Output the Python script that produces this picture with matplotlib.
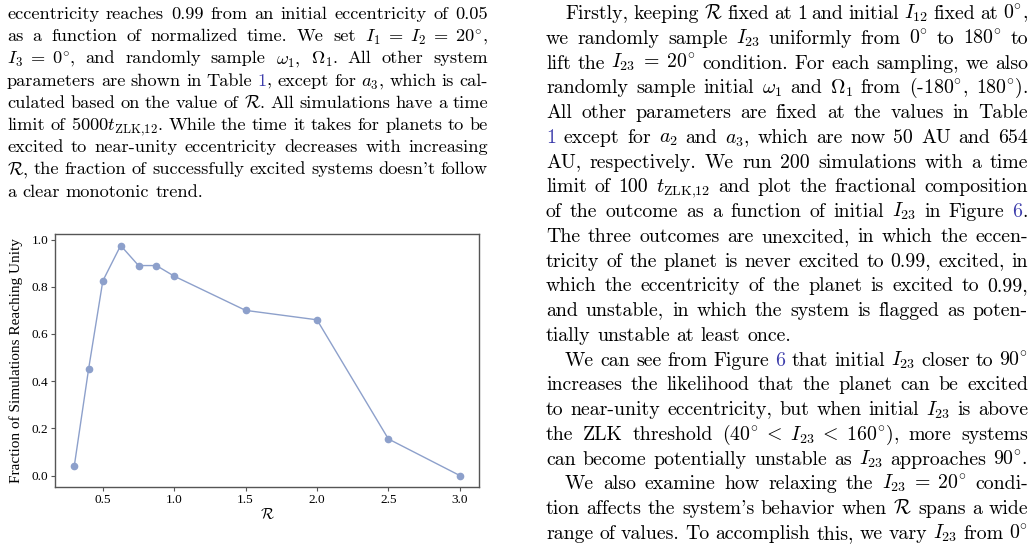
import matplotlib
matplotlib.use('Agg')
import matplotlib.pyplot as plt

plt.rcParams['font.family'] = 'Liberation Serif'
plt.rcParams['mathtext.fontset'] = 'cm'

# chart data
R_vals = [0.3, 0.4, 0.5, 0.625, 0.75, 0.875, 1.0, 1.5, 2.0, 2.5, 3.0]
frac_unity = [0.04, 0.45, 0.825, 0.975, 0.89, 0.89, 0.845, 0.70, 0.66, 0.155, 0.0]
x_ticks = [0.5, 1.0, 1.5, 2.0, 2.5, 3.0]
y_ticks = [0.0, 0.2, 0.4, 0.6, 0.8, 1.0]

# surrounding page text (§...§ marks link-coloured pieces)
left_lines = [
    "eccentricity reaches 0.99 from an initial eccentricity of 0.05",
    "as a function of normalized time. We set $I_1\\;=\\;I_2\\;=\\;20^{\\circ}$,",
    "$I_3\\;=\\;0^{\\circ}$, and randomly sample $\\omega_1$, $\\Omega_1$. All other system",
    "parameters are shown in Table §1§, except for $a_3$, which is cal-",
    "culated based on the value of $\\mathcal{R}$. All simulations have a time",
    "limit of $5000t_{\\mathrm{ZLK{,}12}}$. While the time it takes for planets to be",
    "excited to near-unity eccentricity decreases with increasing",
    "$\\mathcal{R}$, the fraction of successfully excited systems doesn't follow",
    "a clear monotonic trend.",
]
left_last = [8]

right_lines = [
    "Firstly, keeping $\\mathcal{R}$ fixed at 1 and initial $I_{12}$ fixed at $0^{\\circ}$,",
    "we randomly sample $I_{23}$ uniformly from $0^{\\circ}$ to $180^{\\circ}$ to",
    "lift the $I_{23}\\;=\\;20^{\\circ}$ condition. For each sampling, we also",
    "randomly sample initial $\\omega_1$ and $\\Omega_1$ from (-180$^{\\circ}$, 180$^{\\circ}$).",
    "All other parameters are fixed at the values in Table",
    "§1§ except for $a_2$ and $a_3$, which are now 50 AU and 654",
    "AU, respectively. We run 200 simulations with a time",
    "limit of 100 $t_{\\mathrm{ZLK{,}12}}$ and plot the fractional composition",
    "of the outcome as a function of initial $I_{23}$ in Figure §6§.",
    "The three outcomes are unexcited, in which the eccen-",
    "tricity of the planet is never excited to 0.99, excited, in",
    "which the eccentricity of the planet is excited to 0.99,",
    "and unstable, in which the system is flagged as poten-",
    "tially unstable at least once.",
    "We can see from Figure §6§ that initial $I_{23}$ closer to $90^{\\circ}$",
    "increases the likelihood that the planet can be excited",
    "to near-unity eccentricity, but when initial $I_{23}$ is above",
    "the ZLK threshold ($40^{\\circ}\\;<\\;I_{23}\\;<\\;160^{\\circ}$), more systems",
    "can become potentially unstable as $I_{23}$ approaches $90^{\\circ}$.",
    "We also examine how relaxing the $I_{23}\\;=\\;20^{\\circ}$ condi-",
    "tion affects the system's behavior when $\\mathcal{R}$ spans a wide",
    "range of values. To accomplish this, we vary $I_{23}$ from $0^{\\circ}$",
]
right_indent = [0, 14, 19]
right_last = [13]

W, H = 1035, 546
fig = plt.figure(figsize=(W / 100, H / 100), dpi=100)
renderer = fig.canvas.get_renderer()

TEXT_FONT = 'cmr10'
LINK = '#3d3dab'


def split_words(s):
    words, cur, in_math = [], '', False
    for ch in s:
        if ch == '$':
            in_math = not in_math
        if ch == ' ' and not in_math:
            if cur:
                words.append(cur)
            cur = ''
        else:
            cur += ch
    if cur:
        words.append(cur)
    return words


def measure(s, size):
    t = fig.text(0, 0, s, fontsize=size, family=TEXT_FONT)
    w = t.get_window_extent(renderer).width
    t.remove()
    return w


def draw_line(s, x0, x1, y, justify, size):
    words = split_words(s)
    pieces = []
    for w in words:
        parts = w.split('§')
        segs = [(p, LINK if i % 2 else 'black') for i, p in enumerate(parts) if p]
        pieces.append([(p, c, measure(p, size)) for p, c in segs])
    total = sum(sum(pw for _, _, pw in segs) for segs in pieces)
    if justify and len(pieces) > 1:
        gap = (x1 - x0 - total) / (len(pieces) - 1)
    else:
        gap = measure('a a', size) - measure('aa', size)
    x = x0
    for segs in pieces:
        for p, c, pw in segs:
            fig.text(x / W, 1 - y / H, p, fontsize=size, family=TEXT_FONT,
                     color=c, ha='left', va='baseline')
            x += pw
        x += gap


for i, line in enumerate(left_lines):
    draw_line(line, 7, 488, 19 + 22.2 * i, i not in left_last, 13.2)

for i, line in enumerate(right_lines):
    x0 = 565 if i in right_indent else 546
    draw_line(line, x0, 1028, 19 + 24.76 * i, i not in right_last, 14.3)

# the chart
ax = fig.add_axes([55 / W, (H - 487) / H, (479 - 55) / W, (487 - 234) / H])
ax.plot(R_vals, frac_unity, color='#8da0cb', linewidth=1.0, marker='o', markersize=4.5)
ax.set_xticks(x_ticks)
ax.set_yticks(y_ticks)
ax.tick_params(labelsize=9.5, length=3, width=0.8, color='#555555', pad=2,
               top=False, right=False)
for sp in ax.spines.values():
    sp.set_color('#555555')
    sp.set_linewidth(1.0)
ax.set_xlabel('$\\mathcal{R}$', fontsize=11, labelpad=1)
ax.set_ylabel('Fraction of Simulations Reaching Unity', fontsize=11, labelpad=6)

fig.savefig('out.png', dpi=100)
